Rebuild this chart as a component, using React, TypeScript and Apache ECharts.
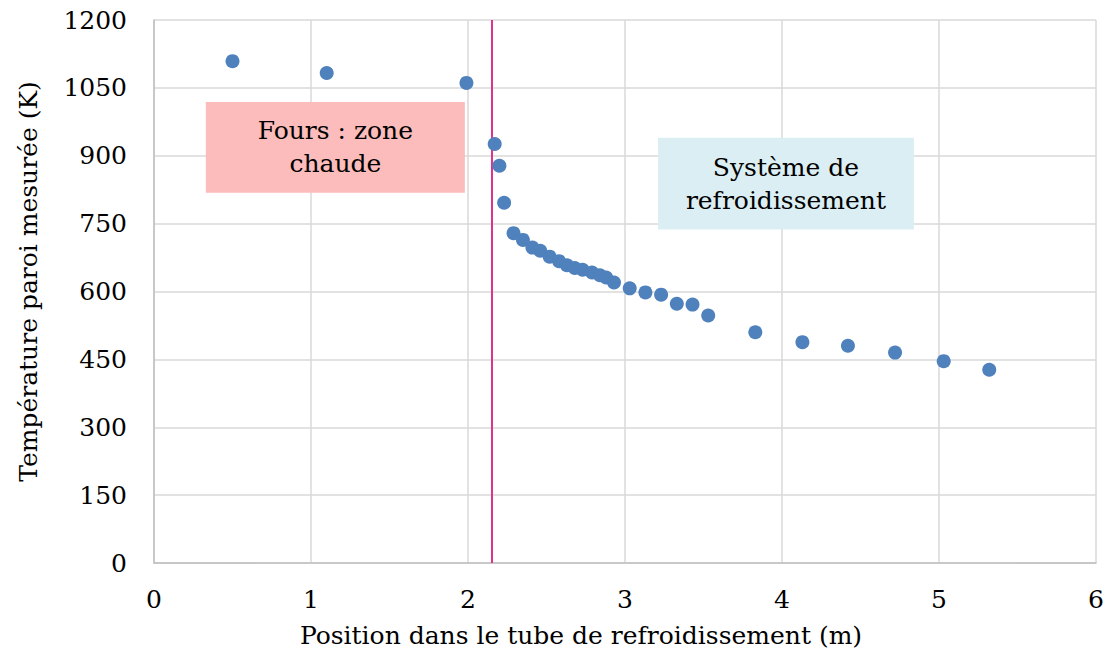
import React, { useEffect, useRef } from "react";
import * as echarts from "echarts";

const positions = [0.5, 1.1, 1.99, 2.17, 2.2, 2.23, 2.29, 2.35, 2.41, 2.46, 2.52, 2.58, 2.63, 2.68, 2.73, 2.79, 2.84, 2.88, 2.93, 3.03, 3.13, 3.23, 3.33, 3.43, 3.53, 3.83, 4.13, 4.42, 4.72, 5.03, 5.32];
const temperatures = [1109, 1083, 1061, 926, 878, 796, 729, 714, 697, 690, 677, 667, 658, 652, 648, 642, 636, 631, 620, 607, 598, 593, 573, 571, 547, 510, 488, 480, 465, 446, 427];
const furnaceLimit = 2.153;
const hotZone = { label: "Fours : zone\nchaude", x: [0.33, 1.98], y: [818, 1019] };
const coolZone = { label: "Système de\nrefroidissement", x: [3.21, 4.84], y: [737, 940] };

const FONT = "DejaVu Serif";

export default function App() {
  const ref = useRef<HTMLDivElement>(null);
  useEffect(() => {
    if (!ref.current) return;
    const chart = echarts.init(ref.current, undefined, { renderer: "svg" });
    const zoneArea = (z: typeof hotZone, color: string) => [
      {
        coord: [z.x[0], z.y[1]],
        itemStyle: { color, opacity: 1 },
        label: {
          show: true,
          position: "inside",
          formatter: z.label,
          color: "#000",
          fontFamily: FONT,
          fontSize: 25,
          lineHeight: 33,
          align: "center",
        },
      },
      { coord: [z.x[1], z.y[0]] },
    ];
    chart.setOption({
      animation: false,
      backgroundColor: "#fff",
      grid: { left: 154, top: 20, right: 14, bottom: 96, containLabel: false },
      xAxis: {
        type: "value",
        min: 0,
        max: 6,
        interval: 1,
        name: "Position dans le tube de refroidissement (m)",
        nameLocation: "middle",
        nameGap: 60,
        nameTextStyle: {
          fontFamily: FONT,
          fontSize: 25,
          color: "#000",
          padding: [0, 88, 0, 0],
        },
        axisLine: { lineStyle: { color: "#BFBFBF", width: 1.5 } },
        axisTick: { show: false },
        axisLabel: { fontFamily: FONT, fontSize: 25, color: "#000", margin: 24 },
        splitLine: { lineStyle: { color: "#D9D9D9", width: 1.5 } },
      },
      yAxis: {
        type: "value",
        min: 0,
        max: 1200,
        interval: 150,
        name: "Température paroi mesurée (K)",
        nameLocation: "middle",
        nameGap: 113,
        nameTextStyle: {
          fontFamily: FONT,
          fontSize: 25,
          color: "#000",
          padding: [0, 0, 0, 20],
        },
        axisLine: { show: true, lineStyle: { color: "#BFBFBF", width: 1.5 } },
        axisTick: { show: false },
        axisLabel: {
          fontFamily: FONT,
          fontSize: 25,
          color: "#000",
          margin: 27,
          formatter: (v: number) => String(v),
        },
        splitLine: { lineStyle: { color: "#D9D9D9", width: 1.5 } },
      },
      series: [
        {
          type: "scatter",
          symbolSize: 14,
          itemStyle: { color: "#4F81BD", opacity: 1 },
          data: positions.map((x, i) => [x, temperatures[i]]),
          z: 5,
          markArea: {
            silent: true,
            z: 1,
            data: [zoneArea(hotZone, "#FBBCBB"), zoneArea(coolZone, "#DBEEF3")],
          },
          markLine: {
            silent: true,
            symbol: "none",
            label: { show: false },
            lineStyle: { color: "#E0338F", width: 2, type: "solid" },
            data: [{ xAxis: furnaceLimit }],
          },
        },
      ],
    });
    return () => chart.dispose();
  }, []);
  return (
    <div
      ref={ref}
      style={{ position: "fixed", left: 0, top: 0, width: 1110, height: 659 }}
    />
  );
}
